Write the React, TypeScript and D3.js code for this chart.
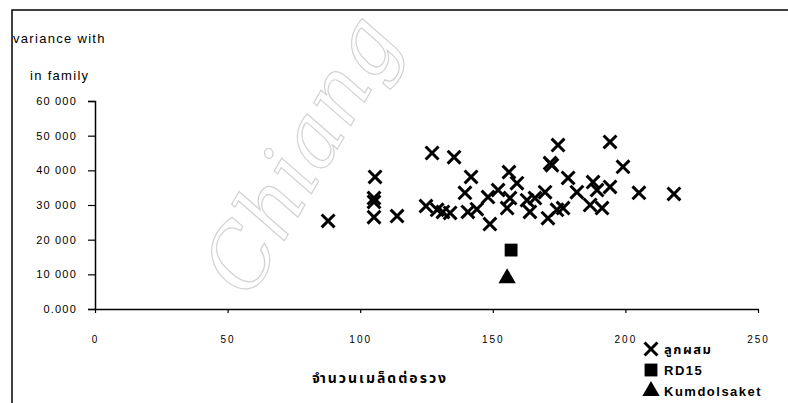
import { useEffect, useRef } from "react";
import * as d3 from "d3";

// ลูกผสม: seeds per panicle vs variance within family
const hybridX = [
  87.9, 105.6, 105.2, 105.2, 105.2, 113.9, 127.1, 135.4, 124.8, 129.0, 131.2,
  133.9, 141.8, 139.5, 140.6, 144.0, 148.9, 148.2, 152.0, 155.4, 156.1, 159.1,
  156.5, 162.9, 164.0, 165.9, 169.7, 171.6, 172.3, 174.6, 170.8, 174.2, 176.5,
  178.4, 181.7, 186.7, 187.8, 191.2, 189.3, 194.2, 194.2, 199.1, 205.1, 218.3,
];
const hybridY = [
  25.4, 38.1, 32.0, 30.9, 26.5, 26.8, 45.0, 43.8, 29.7, 28.6, 28.0, 27.7,
  38.1, 33.5, 28.0, 28.8, 24.5, 32.3, 34.3, 29.1, 39.5, 36.3, 32.0, 31.4,
  28.0, 32.0, 33.7, 42.1, 41.5, 47.3, 26.2, 28.6, 29.1, 37.8, 33.7, 30.0,
  36.6, 29.1, 34.3, 35.2, 48.2, 41.0, 33.5, 33.2,
];
const rd15 = [{ x: 156.9, y: 17.0 }];
const kumdolsaket = [{ x: 155.4, y: 8.9 }];

const xTicks = [0, 50, 100, 150, 200, 250];
const yTicks = [0, 10, 20, 30, 40, 50, 60];
const yTickLabels = ["0.000", "10 000", "20 000", "30 000", "40 000", "50 000", "60 000"];
const legendLabels = ["ลูกผสม", "RD15", "Kumdolsaket"];

const W = 788;
const H = 403;
const FONT = "'Liberation Sans', Arial, sans-serif";

export default function App() {
  const svgRef = useRef<SVGSVGElement>(null);

  useEffect(() => {
    const svg = d3.select(svgRef.current);
    svg.selectAll("*").remove();

    const x = d3.scaleLinear().domain([0, 250]).range([95, 758]);
    const y = d3.scaleLinear().domain([0, 60]).range([309, 101]);

    svg.append("rect").attr("width", W).attr("height", H).attr("fill", "white");

    // watermark (scan stamp), laid along a diagonal path
    svg.append("defs").append("path")
      .attr("id", "wm")
      .attr("d", "M250,300 L420,6");
    svg.append("text")
      .attr("font-family", "'DejaVu Serif', serif")
      .attr("font-style", "italic")
      .attr("font-size", 84)
      .attr("fill", "none")
      .attr("stroke", "#d2d2d2")
      .attr("stroke-width", 1.2)
      .append("textPath")
      .attr("href", "#wm")
      .text("Chiang");

    // frame
    svg.append("path")
      .attr("d", `M12,${H} L12,10 L${W},10`)
      .attr("fill", "none")
      .attr("stroke", "black")
      .attr("stroke-width", 1.5);

    // y axis
    const yAxis = svg.append("g")
      .attr("transform", `translate(${x(0)},0)`)
      .call(d3.axisLeft(y).tickValues(yTicks).tickSize(7).tickFormat((d, i) => yTickLabels[i]));
    yAxis.select(".domain").attr("stroke-width", 1.5);
    yAxis.selectAll("line").attr("stroke-width", 1.2);
    yAxis.selectAll("text")
      .attr("x", -18)
      .attr("font-family", FONT)
      .attr("font-size", 11)
      .attr("letter-spacing", 1.2)
      .attr("fill", "black");

    // x axis
    const xAxis = svg.append("g")
      .attr("transform", `translate(0,${y(0)})`)
      .call(d3.axisBottom(x).tickValues(xTicks).tickSize(4).tickSizeOuter(0));
    xAxis.select(".domain").attr("stroke-width", 1.5);
    xAxis.selectAll("line").attr("stroke-width", 1.2);
    xAxis.selectAll("text")
      .attr("y", 27)
      .attr("font-family", FONT)
      .attr("font-size", 10)
      .attr("letter-spacing", 2)
      .attr("fill", "black");

    // axis titles
    svg.append("text").attr("x", 13).attr("y", 43)
      .attr("font-family", FONT).attr("font-size", 13).attr("letter-spacing", 1.3)
      .text("variance with");
    svg.append("text").attr("x", 30).attr("y", 80)
      .attr("font-family", FONT).attr("font-size", 13).attr("letter-spacing", 1.3)
      .text("in family");
    svg.append("text").attr("x", 380).attr("y", 383)
      .attr("text-anchor", "middle")
      .attr("font-family", "'Noto Sans Thai', 'Noto Sans', sans-serif")
      .attr("font-weight", "bold").attr("font-size", 14).attr("letter-spacing", 2)
      .text("จำนวนเมล็ดต่อรวง");

    const cross = d3.symbol().type(d3.symbolX).size(110);
    const square = d3.symbol().type(d3.symbolSquare).size(165);
    const triangle = d3.symbol().type(d3.symbolTriangle).size(130);

    // hybrids
    svg.append("g").selectAll("path")
      .data(hybridX.map((v, i) => ({ x: v, y: hybridY[i] })))
      .join("path")
      .attr("transform", (d) => `translate(${x(d.x)},${y(d.y)})`)
      .attr("d", cross)
      .attr("fill", "none")
      .attr("stroke", "black")
      .attr("stroke-width", 3);

    svg.append("g").selectAll("path")
      .data(rd15)
      .join("path")
      .attr("transform", (d) => `translate(${x(d.x)},${y(d.y)})`)
      .attr("d", square)
      .attr("fill", "black");

    svg.append("g").selectAll("path")
      .data(kumdolsaket)
      .join("path")
      .attr("transform", (d) => `translate(${x(d.x)},${y(d.y)})`)
      .attr("d", triangle)
      .attr("fill", "black");

    // legend
    const lg = svg.append("g").attr("transform", "translate(651,0)");
    const rows = [349, 370, 391];
    lg.append("path").attr("transform", `translate(0,${rows[0]})`).attr("d", cross)
      .attr("fill", "none").attr("stroke", "black").attr("stroke-width", 3);
    lg.append("path").attr("transform", `translate(0,${rows[1]})`).attr("d", square).attr("fill", "black");
    lg.append("path").attr("transform", `translate(0,${rows[2]})`).attr("d", triangle).attr("fill", "black");
    lg.selectAll("text.lab")
      .data(legendLabels)
      .join("text")
      .attr("class", "lab")
      .attr("x", 13)
      .attr("y", (d, i) => rows[i] + 5)
      .attr("font-family", "'Liberation Sans', 'Noto Sans Thai', sans-serif")
      .attr("font-weight", "bold")
      .attr("font-size", 13)
      .attr("letter-spacing", 1.5)
      .text((d) => d);
  }, []);

  return (
    <svg
      ref={svgRef}
      width={W}
      height={H}
      style={{ position: "absolute", left: 0, top: 0 }}
    />
  );
}
